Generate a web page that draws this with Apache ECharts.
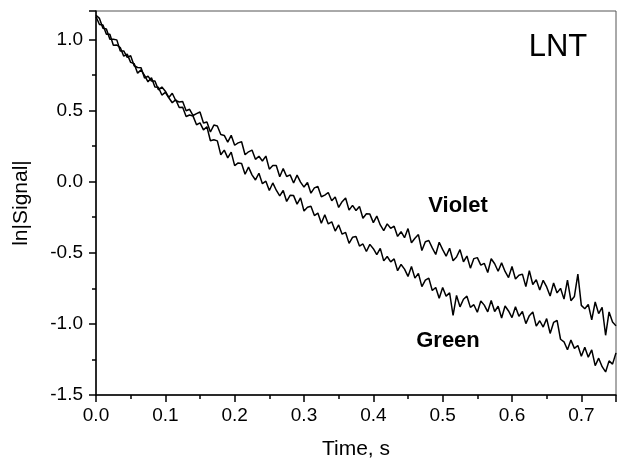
<!DOCTYPE html>
<html><head><meta charset="utf-8">
<script src="https://cdn.jsdelivr.net/npm/echarts@6/dist/echarts.min.js"></script>
<style>html,body{margin:0;padding:0;background:#fff}#c{width:617px;height:465px}</style>
</head><body><div id="c"></div>
<script>
const times = [0,0.005,0.01,0.015,0.02,0.025,0.03,0.035,0.04,0.045,
0.05,0.055,0.06,0.065,0.07,0.075,0.08,0.085,0.09,0.095,
0.1,0.105,0.11,0.115,0.12,0.125,0.13,0.135,0.14,0.145,
0.15,0.155,0.16,0.165,0.17,0.175,0.18,0.185,0.19,0.195,
0.2,0.205,0.21,0.215,0.22,0.225,0.23,0.235,0.24,0.245,
0.25,0.255,0.26,0.265,0.27,0.275,0.28,0.285,0.29,0.295,
0.3,0.305,0.31,0.315,0.32,0.325,0.33,0.335,0.34,0.345,
0.35,0.355,0.36,0.365,0.37,0.375,0.38,0.385,0.39,0.395,
0.4,0.405,0.41,0.415,0.42,0.425,0.43,0.435,0.44,0.445,
0.45,0.455,0.46,0.465,0.47,0.475,0.48,0.485,0.49,0.495,
0.5,0.505,0.51,0.515,0.52,0.525,0.53,0.535,0.54,0.545,
0.55,0.555,0.56,0.565,0.57,0.575,0.58,0.585,0.59,0.595,
0.6,0.605,0.61,0.615,0.62,0.625,0.63,0.635,0.64,0.645,
0.65,0.655,0.66,0.665,0.67,0.675,0.68,0.685,0.69,0.695,
0.7,0.705,0.71,0.715,0.72,0.725,0.73,0.735,0.74,0.745,
0.75];

const violet = [1.170,1.148,1.078,1.074,1.002,1.001,.997,.919,.919,.874,
.885,.815,.803,.801,.728,.742,.707,.708,.646,.665,
.636,.592,.622,.571,.560,.564,.499,.509,.465,.478,
.490,.412,.419,.349,.398,.392,.331,.325,.278,.326,
.256,.273,.281,.189,.210,.222,.157,.179,.145,.180,
.088,.114,.113,.034,.092,.036,.048,-.009,.046,-.003,
-.038,-.006,-.081,-.044,-.034,-.106,-.095,-.076,-.134,-.107,
-.181,-.141,-.115,-.200,-.167,-.203,-.174,-.257,-.226,-.228,
-.288,-.242,-.304,-.344,-.297,-.328,-.313,-.385,-.352,-.394,
-.330,-.430,-.398,-.372,-.484,-.422,-.414,-.466,-.512,-.426,
-.478,-.524,-.468,-.556,-.530,-.478,-.563,-.523,-.608,-.541,
-.534,-.587,-.574,-.639,-.542,-.577,-.630,-.571,-.631,-.674,
-.596,-.684,-.658,-.650,-.738,-.626,-.723,-.689,-.762,-.694,
-.740,-.804,-.712,-.782,-.750,-.826,-.692,-.837,-.807,-.650,
-.870,-.893,-.863,-.972,-.846,-.928,-.884,-1.080,-.916,-.986,
-1.014];

const green = [1.160,1.105,1.101,1.036,1.037,.959,.961,.943,.882,.897,
.839,.830,.763,.786,.748,.702,.730,.666,.664,.609,
.628,.590,.555,.577,.521,.523,.458,.469,.461,.400,
.413,.364,.386,.288,.295,.287,.189,.222,.167,.208,
.113,.132,.128,.052,.102,.048,.012,.059,-.014,.003,
-.062,-.009,-.060,-.100,-.062,-.139,-.096,-.098,-.158,-.114,
-.206,-.180,-.173,-.238,-.221,-.293,-.233,-.297,-.282,-.347,
-.304,-.369,-.357,-.434,-.391,-.386,-.453,-.438,-.491,-.441,
-.471,-.513,-.469,-.557,-.526,-.564,-.543,-.626,-.582,-.615,
-.666,-.597,-.678,-.645,-.738,-.693,-.678,-.765,-.744,-.819,
-.744,-.805,-.781,-.940,-.800,-.880,-.827,-.805,-.884,-.865,
-.918,-.839,-.868,-.915,-.836,-.913,-.876,-.959,-.874,-.909,
-.956,-.880,-.947,-.913,-.998,-.942,-.916,-1.016,-.978,-1.022,
-.963,-1.067,-.990,-.976,-1.108,-1.126,-1.182,-1.114,-1.172,-1.152,
-1.228,-1.165,-1.234,-1.183,-1.294,-1.241,-1.301,-1.338,-1.260,-1.283,
-1.204];

const xTickLabels = ['0.0','0.1','0.2','0.3','0.4','0.5','0.6','0.7'];
const yTickLabels = ['-1.5','-1.0','-0.5','0.0','0.5','1.0'];
const seriesNames = ['Violet','Green'];
const panelLabel = 'LNT';

const FF = '"Liberation Sans", Arial, sans-serif';
const chart = echarts.init(document.getElementById('c'), null, {renderer:'canvas'});

function fmt(list){
  return function(v){
    const s = v.toFixed(1);
    return list.indexOf(s) >= 0 ? s : '';
  };
}

const axisCommon = {
  type:'value',
  nameLocation:'middle',
  nameTextStyle:{fontSize:21, color:'#000', fontFamily:FF},
  axisLine:{show:true, onZero:false, lineStyle:{color:'#000', width:1.5}},
  axisTick:{show:true, length:7, lineStyle:{color:'#000', width:1.5}},
  minorTick:{show:true, splitNumber:2, length:4, lineStyle:{color:'#000', width:1.5}},
  splitLine:{show:false},
  minorSplitLine:{show:false}
};

chart.setOption({
  animation:false,
  backgroundColor:'#fff',
  grid:{left:96, right:1, top:11, bottom:69, show:true, borderColor:'#555', borderWidth:1},
  xAxis:Object.assign({}, axisCommon, {
    min:0, max:0.75, interval:0.1,
    name:'Time, s', nameGap:44,
    axisLabel:{fontSize:19, color:'#000', fontFamily:FF, margin:11, showMaxLabel:false, formatter:fmt(xTickLabels)}
  }),
  yAxis:Object.assign({}, axisCommon, {
    min:-1.5, max:1.2, interval:0.5,
    name:'ln|Signal|', nameGap:64,
    axisLabel:{fontSize:19, color:'#000', fontFamily:FF, margin:13, showMaxLabel:false, formatter:fmt(yTickLabels)}
  }),
  series:[
    {name:seriesNames[0], type:'line', showSymbol:false, symbol:'none', sampling:null,
     lineStyle:{color:'#000', width:1.5}, data:times.map((t,i)=>[t, violet[i]])},
    {name:seriesNames[1], type:'line', showSymbol:false, symbol:'none', sampling:null,
     lineStyle:{color:'#000', width:1.5}, data:times.map((t,i)=>[t, green[i]])}
  ],
  graphic:[
    {type:'text', x:558, y:47, style:{text:panelLabel, fill:'#000', font:'31px ' + FF,
      align:'center', verticalAlign:'middle', textAlign:'center', textVerticalAlign:'middle'}},
    {type:'text', x:458, y:206, style:{text:seriesNames[0], fill:'#000', font:'bold 22px ' + FF,
      align:'center', verticalAlign:'middle', textAlign:'center', textVerticalAlign:'middle'}},
    {type:'text', x:448, y:341, style:{text:seriesNames[1], fill:'#000', font:'bold 22px ' + FF,
      align:'center', verticalAlign:'middle', textAlign:'center', textVerticalAlign:'middle'}}
  ]
});
</script>
</body></html>
